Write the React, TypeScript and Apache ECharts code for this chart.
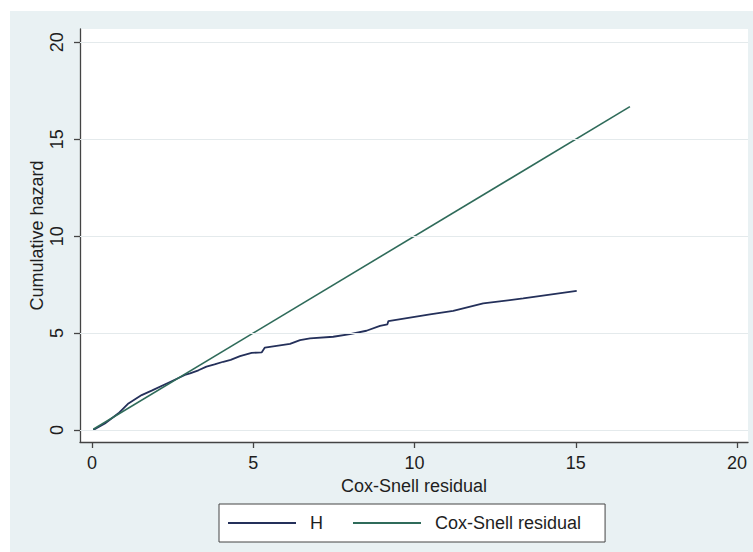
import React, { useEffect, useRef } from "react";
import * as echarts from "echarts";

const xTicks = [0, 5, 10, 15, 20];
const yTicks = [0, 5, 10, 15, 20];

const hX = [0.04, 0.4, 0.82, 1.13, 1.54, 1.85, 2.37, 2.88, 3.04, 3.3, 3.55, 3.8, 4.07, 4.3, 4.59, 4.95, 5.26, 5.36, 6.14, 6.45, 6.76, 7.48, 8.0, 8.51, 8.93, 9.16, 9.19, 10.48, 11.2, 12.13, 13.37, 15.03];
const hY = [0.0, 0.34, 0.86, 1.37, 1.8, 2.03, 2.44, 2.84, 2.92, 3.08, 3.27, 3.38, 3.52, 3.62, 3.81, 3.98, 4.0, 4.25, 4.44, 4.64, 4.73, 4.81, 4.95, 5.12, 5.37, 5.45, 5.62, 5.97, 6.14, 6.53, 6.79, 7.18];

const csX = [0.04, 16.68];
const csY = [0.04, 16.68];

const FONT = "'Liberation Sans', Arial, Helvetica, sans-serif";

export default function App() {
  const ref = useRef<HTMLDivElement>(null);
  useEffect(() => {
    if (!ref.current) return;
    const chart = echarts.init(ref.current, undefined, { renderer: "svg" });
    const axisText = { fontSize: 18, fontFamily: FONT, color: "#1e1e1e" };
    chart.setOption({
      animation: false,
      backgroundColor: "#ffffff",
      graphic: [
        {
          type: "rect",
          z: -10,
          silent: true,
          shape: { x: 10, y: 11, width: 760, height: 560 },
          style: { fill: "#e9f1f3" },
        },
      ],
      grid: {
        left: 80,
        top: 29,
        right: 5,
        bottom: 110,
        show: true,
        backgroundColor: "#ffffff",
        borderWidth: 0,
      },
      legend: {
        data: ["H", "Cox-Snell residual"],
        left: 219,
        top: 504,
        orient: "horizontal",
        icon: "rect",
        backgroundColor: "#ffffff",
        borderColor: "#444",
        borderWidth: 1,
        padding: [9, 24, 9, 9],
        itemWidth: 68,
        itemHeight: 2,
        itemGap: 30,
        textStyle: { fontSize: 18, fontFamily: FONT, color: "#1e1e1e", padding: [0, 0, 0, 9], lineHeight: 20 },
      },
      xAxis: {
        type: "value",
        min: -0.372,
        max: 20.341,
        name: "Cox-Snell residual",
        nameLocation: "middle",
        nameGap: 35,
        nameTextStyle: axisText,
        axisLine: { show: true, onZero: false, lineStyle: { color: "#444", width: 1.3 } },
        axisTick: { show: true, length: 6, customValues: xTicks, lineStyle: { color: "#444", width: 1.3 } },
        axisLabel: { customValues: xTicks, margin: 12, ...axisText },
        splitLine: { show: false },
      },
      yAxis: {
        type: "value",
        min: -0.619,
        max: 20.686,
        name: "Cumulative hazard",
        nameLocation: "middle",
        nameGap: 34,
        nameMoveOverlap: false,
        nameTextStyle: axisText,
        axisLine: { show: true, onZero: false, lineStyle: { color: "#444", width: 1.3 } },
        axisTick: { show: true, length: 6, customValues: yTicks, lineStyle: { color: "#444", width: 1.3 } },
        axisLabel: { customValues: yTicks, margin: 14, rotate: 90, ...axisText },
        splitLine: { show: false },
      },
      series: [
        {
          name: "grid",
          type: "line",
          data: [],
          z: 1,
          silent: true,
          markLine: {
            silent: true,
            symbol: ["none", "none"],
            label: { show: false },
            lineStyle: { color: "#e4eaec", width: 1, type: "solid" },
            data: yTicks.map((v) => ({ yAxis: v })),
          },
        },
        {
          name: "H",
          type: "line",
          symbol: "none",
          showSymbol: false,
          z: 3,
          data: hX.map((x, i) => [x, hY[i]]),
          lineStyle: { color: "#24305a", width: 1.8 },
          itemStyle: { color: "#24305a" },
        },
        {
          name: "Cox-Snell residual",
          type: "line",
          symbol: "none",
          showSymbol: false,
          z: 4,
          data: csX.map((x, i) => [x, csY[i]]),
          lineStyle: { color: "#2f6b5a", width: 1.6 },
          itemStyle: { color: "#2f6b5a" },
        },
      ],
    });
    return () => chart.dispose();
  }, []);
  return <div ref={ref} style={{ position: "fixed", left: 0, top: 0, width: 753, height: 552 }} />;
}
